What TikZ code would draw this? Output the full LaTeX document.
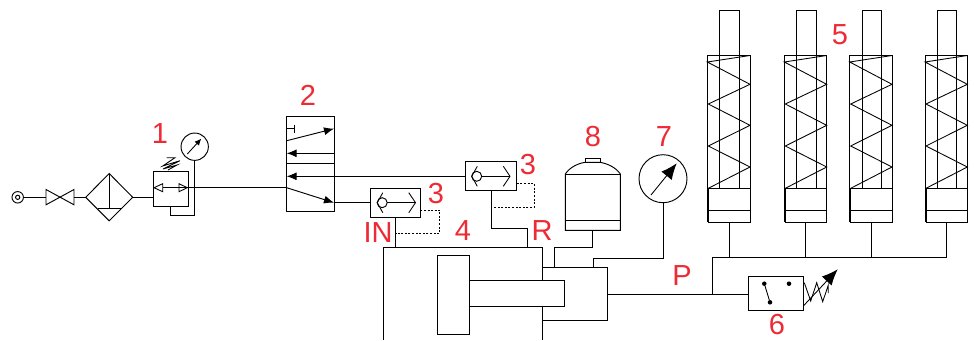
\documentclass[tikz,border=0pt]{standalone}
\usepackage{fontspec}
\setmainfont{Liberation Sans}
\usetikzlibrary{fit,arrows.meta}
\definecolor{lab}{HTML}{EE2A35}
\tikzset{
  x=0.75pt,y=-0.75pt,
  ln/.style={line width=0.7pt,black,line join=miter},
  thin ln/.style={line width=0.65pt,black},
  dot ln/.style={line width=0.65pt,black,dash pattern=on 1.5pt off 1.2pt},
  arr/.style={ln,-{Latex[length=7.5pt,width=6pt]}},
  arrb/.style={thin ln,-{Latex[length=12pt,width=10pt]}},
  lbl/.style={text=lab,font=\fontsize{21.75pt}{24pt}\selectfont,inner sep=0pt},
  boxn/.style={draw,ln,fill=white,inner sep=0pt,outer sep=0pt,rectangle},
  circn/.style={draw,ln,fill=white,circle,inner sep=0pt,outer sep=0pt},
  pdot/.style={circle,fill=black,inner sep=0pt,outer sep=0pt,minimum size=3.4pt},
}
\newcommand\pbox[5]{%
  \coordinate (#1-a) at (#2,#3);\coordinate (#1-b) at (#4,#5);
  \node[boxn,fit=(#1-a)(#1-b)] (#1) {};}
\newcommand\shuttle[3]{% name, circle x, y
  \begin{scope}[shift={(#2,#3)}]
  \node[circn,minimum size=7.5pt] (#1-ball) at (0,0) {};
  \coordinate (#1-tip) at (33.3,0);
  \draw[thin ln] (#1-ball.east) -- (#1-tip);
  \draw[thin ln] (0.6,-10) -- (-5,0) -- (0.6,10);
  \draw[thin ln] (26.6,-10) -- (33.3,0) -- (26.6,10);
  \end{scope}}
\newcommand\springcyl[6]{% name, left, right, rodL, rodR, feed x
  \pbox{#1-rod}{#4}{10}{#5}{188.3}
  \draw[ln] (#2,55) -- (#3,55);
  \draw[ln] (#2,55) -- (#2,222);
  \draw[ln] (#3,55) -- (#3,222);
  \pbox{#1-base}{#2+1}{188.3}{#3}{222}
  \draw[ln] (#1-base.west |- 0,210.7) -- (#1-base.east |- 0,210.7);
  \draw[thin ln] (#3,55.5) -- (#2,62) -- (#3,84.3) -- (#2+1,104) -- (#3,125.3) -- (#2+1,146) -- (#3,167) -- (#2+1,188.3);
  \coordinate (#1-feed) at (#6,222);}
\begin{document}
\begin{tikzpicture}
\useasboundingbox[fill=white] (0,0) rectangle (974,340);
% source
\node[circn,minimum size=8.6pt] (src) at (17.7,197.3) {};
\node[circn,minimum size=3.2pt,line width=0.7pt] (srci) at (17.7,197.3) {};
% stop valve
\coordinate (vl) at (46,197.3);\coordinate (vr) at (74,197.3);
\draw[ln] (46,189.5) -- (74,204.8) -- (74,189.5) -- (46,204.8) -- cycle;
% filter
\coordinate (fw) at (85.7,197.3);\coordinate (fe) at (132.7,197.3);
\coordinate (fn) at (109.2,173.5);\coordinate (fs) at (109.2,220.8);
\draw[ln] (fw) -- (fn) -- (fe) -- (fs) -- cycle;
\coordinate (fc) at (109.2,208.7);
\draw[ln] (fn) -- (fc);
\draw[ln] (97.5,208.7) -- (120.9,208.7);
% regulator
\pbox{reg}{153.3}{171.3}{188}{206.3}
\draw[thin ln] (154,187.7) -- (162.7,183.7) -- (162.7,191.7) -- cycle;
\draw[thin ln] (187.3,187.7) -- (179,183.7) -- (179,191.7) -- cycle;
\draw[thin ln] (166.7,157.7) -- (175,157.7) -- (162.7,166) -- (180,160.7) -- (163,169) -- (177,165) -- (168,170);
\node[circn,minimum size=20.5pt] (g1) at (194.7,146.7) {};
\coordinate (g1a) at (187.3,154);\coordinate (g1b) at (201.3,138.7);
\draw[thin ln,-{Latex[length=5pt,width=4.5pt]}] (g1a) -- (g1b);
\coordinate (rb) at (170,206.3);
\draw[ln] (g1.south) -- (194.7,215) -- (170,215) -- (rb);
% valve 2
\pbox{v2}{286.7}{116}{334}{211.7}
\draw[ln] (286.7,163.7) -- (334,163.7);
\draw[ln] (286.7,128.7) -- (294.3,128.7);
\draw[ln] (294.3,124.7) -- (294.3,132.7);
\draw[arr] (286.7,140.7) -- (334,128.7);
\draw[arr] (334,153.3) -- (286.7,153.3);
\coordinate (v2in) at (286.7,187.7);
\coordinate (v2out) at (334,202.7);
\draw[arr] (v2in) -- (v2out);
\coordinate (reginner) at (162.7,187.7);
\draw[thin ln] (reginner) -- (v2in);
% shuttle valves
\pbox{s1}{370.7}{188.3}{420.3}{217}
\pbox{s2}{465}{161.7}{516.7}{190.3}
\shuttle{sa}{382.2}{202.7}
\shuttle{sb}{476.7}{176.3}
\draw[ln] (v2out) -- (s1.west |- v2out);
\coordinate (v2back) at (286.7,176.3);
\draw[arr] (s2.west |- v2back) -- (v2back);
% block 4
\coordinate (bl) at (383.7,340);\coordinate (br) at (542.3,340);
\coordinate (btl) at (383.7,247.3);\coordinate (btr) at (542.3,247.3);
\draw[ln] (bl) -- (btl) -- (btr) -- (br);
% cylinder
\pbox{cyl}{542.3}{267.7}{607.7}{320}
\pbox{rod}{469.7}{280.7}{564.3}{306.3}
\pbox{pist}{437.7}{255}{469.7}{334.3}
% connections shuttle to block
\coordinate (ina) at (395.7,247.3);\coordinate (ra) at (527,247.3);
\draw[ln] (s1.south -| ina) -- (ina);
\draw[ln] (491,190.3) -- (491,228) -- (527,228) -- (ra);
\draw[dot ln] (420.3,210) -- (439.7,210) -- (439.7,233.3) -- (395.7,233.3);
\draw[dot ln] (516.7,183.7) -- (534.3,183.7) -- (534.3,207) -- (491,207);
% tank
\draw[ln,fill=white] (585,162.3) -- (585,158.7) -- (600,158.7) -- (600,162.3);
\draw[ln,fill=white] (565.3,174) .. controls (570,167) and (578,163.5) .. (585,162.3) -- (600,162.3) .. controls (607,163.5) and (615.5,167) .. (620.3,174) -- (620.3,230.3) -- (565.3,230.3) -- cycle;
\draw[ln] (565.3,174) -- (620.3,174);
\draw[ln] (565.3,220.7) -- (620.3,220.7);
\coordinate (tb) at (592.7,230.3);
\draw[ln] (tb) -- (592.7,247.7) -- (554,247.7) -- (554,267.7);
% gauge 7
\node[circn,minimum size=36pt] (g7) at (663,178.7) {};
\coordinate (g7a) at (651,195);\coordinate (g7b) at (676.7,163.3);
\draw[arrb] (g7a) -- (g7b);
\draw[ln] (g7.south) -- (663,258) -- (593.7,258) -- (593.7,267.7);
% relief valve
\pbox{rv}{748}{276.7}{803.3}{310.7}
\node[pdot] (d1) at (764.3,283.7) {};
\node[pdot] (d2) at (789,283.7) {};
\node[pdot] (d3) at (770,302.3) {};
\draw[thin ln] (d1) -- (d3);
\draw[thin ln] (804.3,282.7) -- (810.7,301) -- (816.7,282.7) -- (822.7,301.7) -- (828.3,285) -- (828.3,293);
\coordinate (rva) at (803.3,306);\coordinate (rvb) at (837.7,269.3);
\draw[arrb] (rva) -- (rvb);
% spring cylinders
\springcyl{ca}{707.3}{750}{719.7}{739}{729}
\springcyl{cb}{784.3}{826.7}{796.7}{816}{805.7}
\springcyl{cc}{849.7}{892}{862}{881.3}{871.7}
\springcyl{cd}{925}{967.3}{937.3}{956.7}{946.7}
% manifold
\coordinate (pj) at (712.3,294.3);
\coordinate (mtop) at (712.3,257.3);
\draw[ln] (cyl.east |- pj) -- (rv.west |- pj);
\draw[ln] (pj) -- (mtop) -- (cd-feed |- mtop) -- (cd-feed);
\draw[ln] (ca-feed) -- (ca-feed |- mtop);
\draw[ln] (cb-feed) -- (cb-feed |- mtop);
\draw[ln] (cc-feed) -- (cc-feed |- mtop);
% supply line
\draw[ln] (src) -- (vl);
\draw[ln] (vr) -- (fw);
\draw[ln] (fe) -- (reg.west |- fe);
% labels
\node[lbl] (l1) at (160,134) {1};
\node[lbl] (l2) at (308,95) {2};
\node[lbl] (l3a) at (528,165) {3};
\node[lbl] (l3b) at (436,194) {3};
\node[lbl] (lin) at (378,233) {IN};
\node[lbl] (l4) at (463,231) {4};
\node[lbl] (lr) at (542,231) {R};
\node[lbl] (l8) at (593,137) {8};
\node[lbl] (l7) at (664,137) {7};
\node[lbl] (l5) at (840,35) {5};
\node[lbl] (l6) at (777,325) {6};
\node[lbl] (lp) at (682,276) {P};
\end{tikzpicture}
\end{document}
